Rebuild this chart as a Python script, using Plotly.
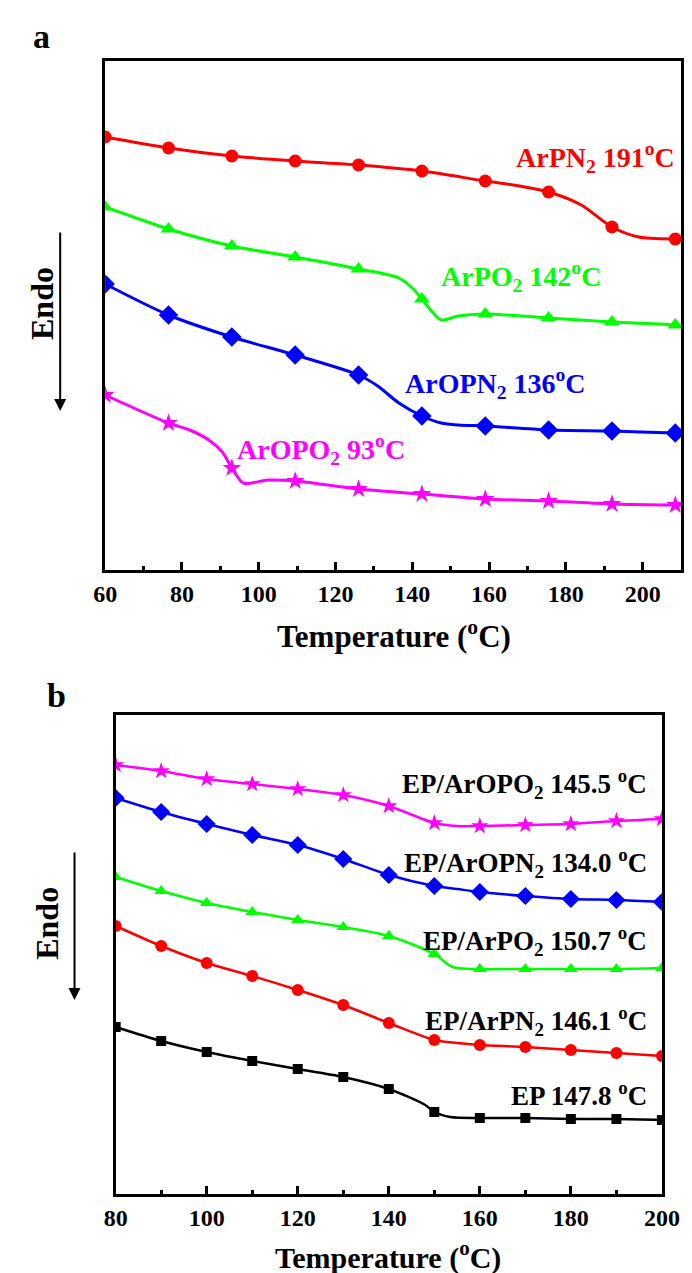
import plotly.graph_objects as go

# ---------------- data (panel a, heat flow in arbitrary units) ----------------
a_marker_T = [60, 76.5, 93, 109.5, 126, 142.5, 159, 175.5, 192, 208.5]
a_ArPN2 = [43.3, 42.2, 41.4, 40.9, 40.5, 39.9, 38.9, 37.8, 34.3, 33.1]
a_ArPO2 = [36.3, 34.1, 32.4, 31.3, 30.1, 27.1, 25.6, 25.2, 24.8, 24.5]
a_ArOPN2 = [28.6, 25.5, 23.3, 21.5, 19.5, 15.4, 14.4, 14.0, 13.9, 13.7]
a_ArOPO2 = [17.5, 14.7, 10.2, 8.9, 8.1, 7.6, 7.1, 6.9, 6.6, 6.5]

# extra curve readings between markers
a_ArPN2_xT = [168, 184, 199, 210]
a_ArPN2_xV = [38.4, 36.5, 33.3, 33.1]
a_ArPO2_xT = [136.5, 140, 145, 147.5, 152, 210]
a_ArPO2_xV = [29.2, 28.2, 25.9, 25.0, 25.4, 24.4]
a_ArOPN2_xT = [131, 136.5, 147.5, 152, 210]
a_ArOPN2_xV = [18.4, 16.7, 14.7, 14.5, 13.7]
a_ArOPO2_xT = [82, 87, 90.5, 96, 102.5, 210]
a_ArOPO2_xV = [14.0, 13.0, 11.8, 8.7, 9.0, 6.5]

# ---------------- data (panel b) ----------------
b_T = [80, 90, 100, 110, 120, 130, 140, 150, 160, 170, 180, 190, 200]
b_EP_ArOPO2 = [42.9, 42.3, 41.5, 41.0, 40.5, 39.9, 38.8, 37.1, 36.8, 36.9, 37.0, 37.3, 37.5]
b_EP_ArOPN2 = [39.6, 38.2, 37.0, 35.9, 34.9, 33.5, 31.9, 30.8, 30.2, 29.8, 29.5, 29.4, 29.2]
b_EP_ArPO2 = [31.7, 30.3, 29.1, 28.2, 27.4, 26.7, 25.8, 24.0, 22.5, 22.5, 22.5, 22.5, 22.6]
b_EP_ArPN2 = [26.8, 24.8, 23.1, 21.8, 20.4, 18.9, 17.1, 15.4, 14.9, 14.7, 14.4, 14.1, 13.8]
b_EP = [16.7, 15.3, 14.2, 13.3, 12.5, 11.7, 10.5, 8.2, 7.6, 7.6, 7.5, 7.5, 7.4]

b_EP_ArOPO2_xT, b_EP_ArOPO2_xV = [155], [36.8]
b_EP_ArOPN2_xT, b_EP_ArOPN2_xV = [155], [30.5]
b_EP_ArPO2_xT, b_EP_ArPO2_xV = [154], [22.7]
b_EP_ArPN2_xT, b_EP_ArPN2_xV = [155], [15.1]
b_EP_xT, b_EP_xV = [148, 153.5], [8.9, 7.7]

a_labels = ["ArPN<sub>2</sub> 191<sup>o</sup>C", "ArPO<sub>2</sub> 142<sup>o</sup>C",
            "ArOPN<sub>2</sub> 136<sup>o</sup>C", "ArOPO<sub>2</sub> 93<sup>o</sup>C"]
b_labels = ["EP/ArOPO<sub>2</sub> 145.5 <sup>o</sup>C", "EP/ArOPN<sub>2</sub> 134.0 <sup>o</sup>C",
            "EP/ArPO<sub>2</sub> 150.7 <sup>o</sup>C", "EP/ArPN<sub>2</sub> 146.1 <sup>o</sup>C",
            "EP 147.8 <sup>o</sup>C"]

W, H = 692, 1273
FONT = "Liberation Serif, Times New Roman, serif"


def fx(x):
    return x / W


def fy(y):
    return 1 - y / H


def merged(mT, mV, xT, xV):
    pts = sorted(zip(list(mT) + list(xT), list(mV) + list(xV)))
    return [p[0] for p in pts], [p[1] for p in pts]


fig = go.Figure()


def add_series(mT, mV, xT, xV, color, symbol, msize, lw, xa, ya):
    lx, ly = merged(mT, mV, xT, xV)
    fig.add_trace(go.Scatter(x=lx, y=ly, mode="lines", xaxis=xa, yaxis=ya,
                             line=dict(color=color, width=lw, shape="spline", smoothing=0.8),
                             showlegend=False, hoverinfo="skip"))
    fig.add_trace(go.Scatter(x=mT, y=mV, mode="markers", xaxis=xa, yaxis=ya,
                             marker=dict(color=color, symbol=symbol, size=msize, line=dict(width=0)),
                             showlegend=False))


# panel a
add_series(a_marker_T, a_ArPN2, a_ArPN2_xT, a_ArPN2_xV, "#ff0000", "circle", 13, 3, "x", "y")
add_series(a_marker_T, a_ArPO2, a_ArPO2_xT, a_ArPO2_xV, "#00ff00", "triangle-up", 14, 3, "x", "y")
add_series(a_marker_T, a_ArOPN2, a_ArOPN2_xT, a_ArOPN2_xV, "#0000ff", "diamond", 15, 3, "x", "y")
add_series(a_marker_T, a_ArOPO2, a_ArOPO2_xT, a_ArOPO2_xV, "#ff00ff", "star", 14, 3, "x", "y")

# panel b
add_series(b_T, b_EP_ArOPO2, b_EP_ArOPO2_xT, b_EP_ArOPO2_xV, "#ff00ff", "star", 13, 2.5, "x2", "y2")
add_series(b_T, b_EP_ArOPN2, b_EP_ArOPN2_xT, b_EP_ArOPN2_xV, "#0000ff", "diamond", 14, 2.5, "x2", "y2")
add_series(b_T, b_EP_ArPO2, b_EP_ArPO2_xT, b_EP_ArPO2_xV, "#00ff00", "triangle-up", 12, 2.5, "x2", "y2")
add_series(b_T, b_EP_ArPN2, b_EP_ArPN2_xT, b_EP_ArPN2_xV, "#ff0000", "circle", 12, 2.5, "x2", "y2")
add_series(b_T, b_EP, b_EP_xT, b_EP_xV, "#000000", "square", 10, 2.5, "x2", "y2")

tickfont_a = dict(family=FONT, size=24, color="black", weight="bold")
tickfont_b = dict(family=FONT, size=24, color="black", weight="bold")

common_x = dict(showline=True, linecolor="black", linewidth=3, mirror=True,
                ticks="inside", ticklen=8, tickwidth=2.5, tickcolor="black",
                showgrid=False, zeroline=False)
common_y = dict(showline=True, linecolor="black", linewidth=3, mirror=True,
                ticks="", showticklabels=False, showgrid=False, zeroline=False)

fig.update_layout(
    width=W, height=H,
    margin=dict(l=0, r=0, t=0, b=0),
    paper_bgcolor="white", plot_bgcolor="white",
    xaxis=dict(domain=[fx(89), fx(691)], range=[60, 210], tickvals=[60, 80, 100, 120, 140, 160, 180, 200],
               minor=dict(ticks="inside", ticklen=4, tickwidth=2.5, dtick=10, tick0=60, tickcolor="black"),
               tickfont=tickfont_a, anchor="y", **common_x),
    yaxis=dict(domain=[fy(562), fy(53)], range=[0, 50.9], anchor="x", **common_y),
    xaxis2=dict(domain=[fx(100), fx(671)], range=[80, 200], tickvals=[80, 100, 120, 140, 160, 180, 200],
                minor=dict(ticks="inside", ticklen=4, tickwidth=2.5, dtick=10, tick0=80, tickcolor="black"),
                tickfont=tickfont_b, anchor="y2", **common_x),
    yaxis2=dict(domain=[fy(1186), fy(707)], range=[0, 47.9], anchor="x2", **common_y),
)

ann = []


def text(x, y, s, size, color="black", angle=0, xanchor="center"):
    ann.append(dict(x=fx(x), y=fy(y), xref="paper", yref="paper", text=s, showarrow=False,
                    xanchor=xanchor, yanchor="middle", textangle=angle,
                    font=dict(family=FONT, size=size, color=color, weight="bold")))


# panel labels
text(22, 28, "a", 34)
text(38, 687, "b", 34)

# axis titles
text(391, 626, "Temperature (<sup>o</sup>C)", 31)
text(385, 1247, "Temperature (<sup>o</sup>C)", 30)

# Endo labels
text(23, 296, "Endo", 32, angle=-90)
text(28, 915, "Endo", 32, angle=-90)

# arrows
ann.append(dict(x=fx(42), y=fy(403), xref="paper", yref="paper", ax=0, ay=-180, text="",
                showarrow=True, arrowhead=2, arrowsize=1.2, arrowwidth=2, arrowcolor="black"))
ann.append(dict(x=fx(57), y=fy(992), xref="paper", yref="paper", ax=0, ay=-149, text="",
                showarrow=True, arrowhead=2, arrowsize=1.2, arrowwidth=2, arrowcolor="black"))

# series labels panel a
a_colors = ["#ff0000", "#00ff00", "#0000ff", "#ff00ff"]
a_pos = [(602, 150), (524, 268), (497, 375), (315, 441)]
for s, c, (x, y) in zip(a_labels, a_colors, a_pos):
    text(x, y, s, 28, color=c)

# series labels panel b (right aligned)
b_ys = [776, 855, 933, 1013, 1086]
for s, y in zip(b_labels, b_ys):
    text(658, y, s, 27, xanchor="right")

fig.update_layout(annotations=ann)
fig.write_html("out.html")
